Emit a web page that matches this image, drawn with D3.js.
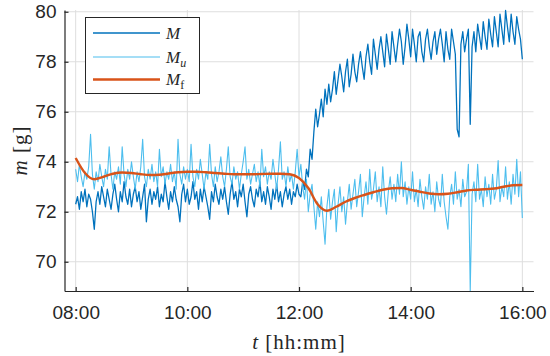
<!DOCTYPE html>
<html>
<head>
<meta charset="utf-8">
<script src="https://cdn.jsdelivr.net/npm/d3@7"></script>
<style>
  body { margin: 0; background: #fff; }
  .tick text { font-family: "Liberation Sans", Arial, sans-serif; font-size: 19px; fill: #262626; }
  .serif { font-family: "Liberation Serif", "Times New Roman", serif; fill: #262626; }
</style>
</head>
<body>
<div id="chart"></div>
<script>
// measured series: one value every 2 minutes from 08:00 to 16:00
const START = '08:00';
const STEP_MIN = 2;
// filtered series: one value every 10 minutes
const FILT_STEP_MIN = 10;

const M = [
  72.3, 72.6, 72.1, 72.8, 72.4, 72.9, 72.2, 72.7, 72.5, 72.0, 71.3,
  72.4, 72.8, 72.3, 73.0, 72.6, 72.2, 72.9, 72.5, 72.1, 72.7,
  73.1, 72.5, 72.0, 72.8, 72.4, 73.2, 72.6, 72.3, 72.9, 72.2,
  72.7, 73.0, 72.4, 72.8, 72.1, 72.6, 73.1, 71.6, 72.5, 72.9,
  72.3, 72.8, 72.5, 73.0, 72.2, 72.7, 72.4, 73.2, 72.6, 72.1,
  72.8, 72.4, 73.0, 72.5, 72.2, 71.6, 72.7, 73.1, 72.4, 72.9,
  72.3, 72.6, 73.2, 72.5, 72.8, 72.1, 72.9, 72.4, 73.0, 72.6,
  72.2, 71.7, 72.8, 72.4, 73.1, 72.6, 72.3, 72.9, 72.5, 73.0,
  72.4, 71.9, 72.7, 73.2, 72.5, 72.8, 72.2, 72.9, 72.6, 73.1,
  72.4, 71.8, 72.7, 73.0, 72.5, 72.2, 72.9, 72.6, 73.2, 72.4,
  72.8, 72.3, 73.0, 72.6, 72.1, 72.9, 72.5, 73.1, 72.4, 72.8,
  72.2, 72.7, 73.0, 72.5, 72.9, 72.3, 72.8, 72.6, 73.1, 72.7,
  72.6, 73.2, 72.9, 73.7, 73.4, 74.5, 74.1, 75.2, 76.1, 75.4,
  75.9, 76.5, 75.8, 76.9, 76.3, 77.1, 76.4, 76.9, 77.6, 76.7,
  77.3, 77.9, 77.4, 76.8, 77.6, 78.1, 77.0, 77.5, 78.3, 77.6,
  77.2, 77.9, 78.4, 77.8, 77.3, 78.2, 78.7, 78.0, 77.5, 78.9,
  78.3, 77.7, 78.5, 79.0, 78.4, 77.8, 79.1, 78.5, 77.9, 79.2,
  78.6, 78.0, 78.7, 79.3, 78.8, 77.9, 78.6, 79.5, 78.9, 78.2,
  79.3, 78.7, 78.0, 79.0, 79.2, 78.4, 78.0, 78.9, 79.3, 78.6,
  78.1, 78.8, 79.2, 78.3, 78.9, 79.3, 78.7, 78.0, 79.2, 78.5,
  78.1, 79.3, 78.8, 78.3, 75.3, 75.0, 78.7, 79.2, 78.4, 78.9,
  79.3, 75.5, 78.6, 79.2, 78.4, 79.5, 79.0, 78.5, 79.6, 79.0,
  78.5, 79.7, 79.1, 78.6, 79.8, 79.2, 78.6, 79.9, 79.3, 78.7,
  80.05, 79.4, 78.8, 79.9, 79.2, 78.7, 79.8, 79.3, 78.9, 78.1
];

const Mu = [
  73.7, 73.2, 73.9, 73.4, 73.0, 73.6, 73.3, 73.8, 75.1, 73.5, 72.9,
  73.6, 73.2, 73.9, 73.4, 73.0, 73.7, 73.3, 74.6, 73.5, 72.9,
  73.6, 73.3, 73.8, 73.1, 74.6, 73.5, 73.0, 73.7, 73.3, 74.0,
  73.4, 72.9, 73.6, 73.2, 73.8, 74.9, 73.4, 73.0, 73.7, 73.3,
  73.9, 73.2, 73.6, 73.0, 74.5, 73.4, 73.8, 73.1, 73.6, 73.3,
  73.9, 73.2, 73.6, 72.9, 74.9, 73.5, 73.1, 73.8, 73.3, 73.7,
  73.2, 74.7, 73.4, 73.0, 73.7, 73.3, 74.1, 73.5, 72.9, 73.6,
  73.3, 74.7, 73.5, 73.0, 73.8, 73.2, 73.6, 74.2, 73.4, 73.0,
  73.7, 74.6, 73.4, 73.1, 73.8, 73.3, 73.6, 72.9, 73.5, 74.0,
  74.6, 73.3, 73.7, 73.1, 73.5, 73.9, 73.2, 73.6, 73.0, 74.5,
  73.4, 73.8, 73.1, 73.6, 73.3, 74.1, 73.5, 72.9, 73.7, 74.8,
  73.3, 73.6, 73.0, 73.8, 73.2, 73.5, 72.9, 73.6, 74.5, 73.4,
  73.9, 73.0, 72.5, 73.3, 72.0, 72.7, 73.1, 72.2, 71.3, 72.4,
  71.8, 72.6, 71.6, 70.7, 72.2, 72.9, 71.7, 72.4, 72.9, 71.2,
  72.3, 73.0, 72.0, 72.6, 71.5, 72.4, 73.1, 72.1, 72.7, 73.3,
  72.2, 72.8, 73.5, 71.8, 72.6, 73.2, 72.3, 73.7, 72.5, 72.9,
  73.6, 72.4, 73.0, 72.2, 73.8, 72.6, 71.9, 72.8, 73.4, 72.5,
  73.1, 72.4, 73.5, 72.7, 74.0, 72.6, 73.2, 72.3, 73.0, 72.5,
  73.6, 72.4, 72.9, 72.2, 73.3, 72.6, 72.1, 73.0, 72.5, 73.5,
  72.3, 72.8, 72.0, 73.2, 72.5, 72.2, 73.5, 72.4, 71.8, 71.3,
  72.6, 73.1, 72.3, 73.6, 72.5, 72.9, 72.2, 73.3, 72.6, 72.8,
  73.9, 68.83, 72.7, 73.2, 72.4, 73.9, 72.5, 72.9, 72.2, 73.4,
  72.6, 73.1, 72.3, 73.5, 72.5, 72.9, 74.05, 72.4, 73.0, 72.6,
  73.8, 72.5, 73.2, 72.3, 73.5, 72.7, 74.1, 72.6, 73.6, 71.75
];

const Mf = [
  74.15, 73.55, 73.3, 73.4, 73.52, 73.57,
  73.55, 73.5, 73.47, 73.48, 73.53, 73.58,
  73.6, 73.6, 73.58, 73.55, 73.52, 73.5,
  73.5, 73.5, 73.51, 73.52, 73.52, 73.5,
  73.35, 72.95, 72.3, 72.04, 72.2, 72.4,
  72.55, 72.67, 72.78, 72.88, 72.94, 72.95,
  72.88, 72.8, 72.73, 72.7, 72.72, 72.78,
  72.85, 72.88, 72.9, 72.93, 73.0, 73.06,
  73.07
];

const yTicks = [70, 72, 74, 76, 78, 80];
const xTickLabels = ['08:00', '10:00', '12:00', '14:00', '16:00'];
const xLimits = ['07:48', '16:12'];
const yLimits = [68.83, 80.07];

const W = 550, H = 356;
const plot = {left: 64.5, right: 533.5, top: 10, bottom: 291};

const parseHM = d3.timeParse('%H:%M');
const t0 = parseHM(START);

const x = d3.scaleTime()
    .domain(xLimits.map(parseHM))
    .range([plot.left, plot.right]);

const y = d3.scaleLinear()
    .domain(yLimits)
    .range([plot.bottom, plot.top]);

const svg = d3.select('#chart')
    .append('svg')
    .attr('width', W)
    .attr('height', H);

svg.append('defs').append('clipPath')
    .attr('id', 'plotclip')
    .append('rect')
    .attr('x', plot.left)
    .attr('y', plot.top - 1)
    .attr('width', plot.right - plot.left)
    .attr('height', plot.bottom - plot.top + 1);

// grid
const xTicks = xTickLabels.map(parseHM);
svg.append('g')
    .selectAll('line')
    .data(xTicks)
    .enter()
    .append('line')
    .attr('x1', d => x(d)).attr('x2', d => x(d))
    .attr('y1', plot.top).attr('y2', plot.bottom)
    .attr('stroke', '#dedede').attr('stroke-width', 1);

svg.append('g')
    .selectAll('line')
    .data(yTicks)
    .enter()
    .append('line')
    .attr('x1', plot.left).attr('x2', plot.right)
    .attr('y1', d => y(d)).attr('y2', d => y(d))
    .attr('stroke', '#dedede').attr('stroke-width', 1);

// lines
const lineOf = step => d3.line()
    .x((d, i) => x(d3.timeMinute.offset(t0, i * step)))
    .y(d => y(d));

const lines = svg.append('g').attr('clip-path', 'url(#plotclip)');

lines.append('path')
    .datum(M)
    .attr('d', lineOf(STEP_MIN))
    .attr('fill', 'none')
    .attr('stroke', '#0072BD')
    .attr('stroke-width', 1.3)
    .attr('stroke-linejoin', 'round');

lines.append('path')
    .datum(Mu)
    .attr('d', lineOf(STEP_MIN))
    .attr('fill', 'none')
    .attr('stroke', '#4DBEEE')
    .attr('stroke-width', 1.1)
    .attr('stroke-linejoin', 'round');

lines.append('path')
    .datum(Mf)
    .attr('d', lineOf(FILT_STEP_MIN).curve(d3.curveMonotoneX))
    .attr('fill', 'none')
    .attr('stroke', '#D95319')
    .attr('stroke-width', 2.4);

// axes
const yAxis = svg.append('g')
    .attr('transform', `translate(${plot.left},0)`)
    .call(d3.axisLeft(y).tickValues(yTicks).tickSize(-4).tickSizeOuter(0).tickPadding(8));

const xAxis = svg.append('g')
    .attr('transform', `translate(0,${plot.bottom})`)
    .call(d3.axisBottom(x).tickValues(xTicks).tickFormat(d3.timeFormat('%H:%M'))
        .tickSize(-4).tickSizeOuter(0).tickPadding(14.5));

[yAxis, xAxis].forEach(a => {
    a.select('.domain').attr('stroke', '#262626').attr('stroke-width', 1.2);
    a.selectAll('.tick line').attr('stroke', '#262626').attr('stroke-width', 1.2);
});

// axis labels
const xLabel = svg.append('text')
    .attr('class', 'serif')
    .attr('x', (plot.left + plot.right) / 2)
    .attr('y', 349)
    .attr('text-anchor', 'middle')
    .style('font-size', '21px')
    .style('letter-spacing', '1px');
xLabel.append('tspan').style('font-style', 'italic').text('t');
xLabel.append('tspan').text(' [hh:mm]');

const yLabel = svg.append('text')
    .attr('class', 'serif')
    .attr('transform', `translate(27,${(plot.top + plot.bottom) / 2}) rotate(-90)`)
    .attr('text-anchor', 'middle')
    .style('font-size', '21px')
    .style('letter-spacing', '1px');
yLabel.append('tspan').style('font-style', 'italic').text('m');
yLabel.append('tspan').text(' [g]');

// legend
const legendItems = [
    {name: 'M', sub: null, color: '#0072BD', width: 1.3},
    {name: 'M', sub: 'u', subItalic: true, color: '#4DBEEE', width: 1.1},
    {name: 'M', sub: 'f', subItalic: false, color: '#D95319', width: 2.4}
];
const legendRows = [33, 57, 79.5];

const legend = svg.append('g');
legend.append('rect')
    .attr('x', 85.5).attr('y', 17.5)
    .attr('width', 114).attr('height', 76)
    .attr('fill', '#fff')
    .attr('stroke', '#262626')
    .attr('stroke-width', 1);

legendItems.forEach((d, i) => {
    const ly = legendRows[i];
    legend.append('line')
        .attr('x1', 93).attr('x2', 160)
        .attr('y1', ly).attr('y2', ly)
        .attr('stroke', d.color)
        .attr('stroke-width', d.width);
    const t = legend.append('text')
        .attr('class', 'serif')
        .attr('x', 166)
        .attr('y', ly + 5.5)
        .style('font-size', '17px');
    t.append('tspan').style('font-style', 'italic').text(d.name);
    if (d.sub) {
        t.append('tspan')
            .attr('dy', 4)
            .style('font-size', '12px')
            .style('font-style', d.subItalic ? 'italic' : 'normal')
            .text(d.sub);
    }
});
</script>
</body>
</html>
